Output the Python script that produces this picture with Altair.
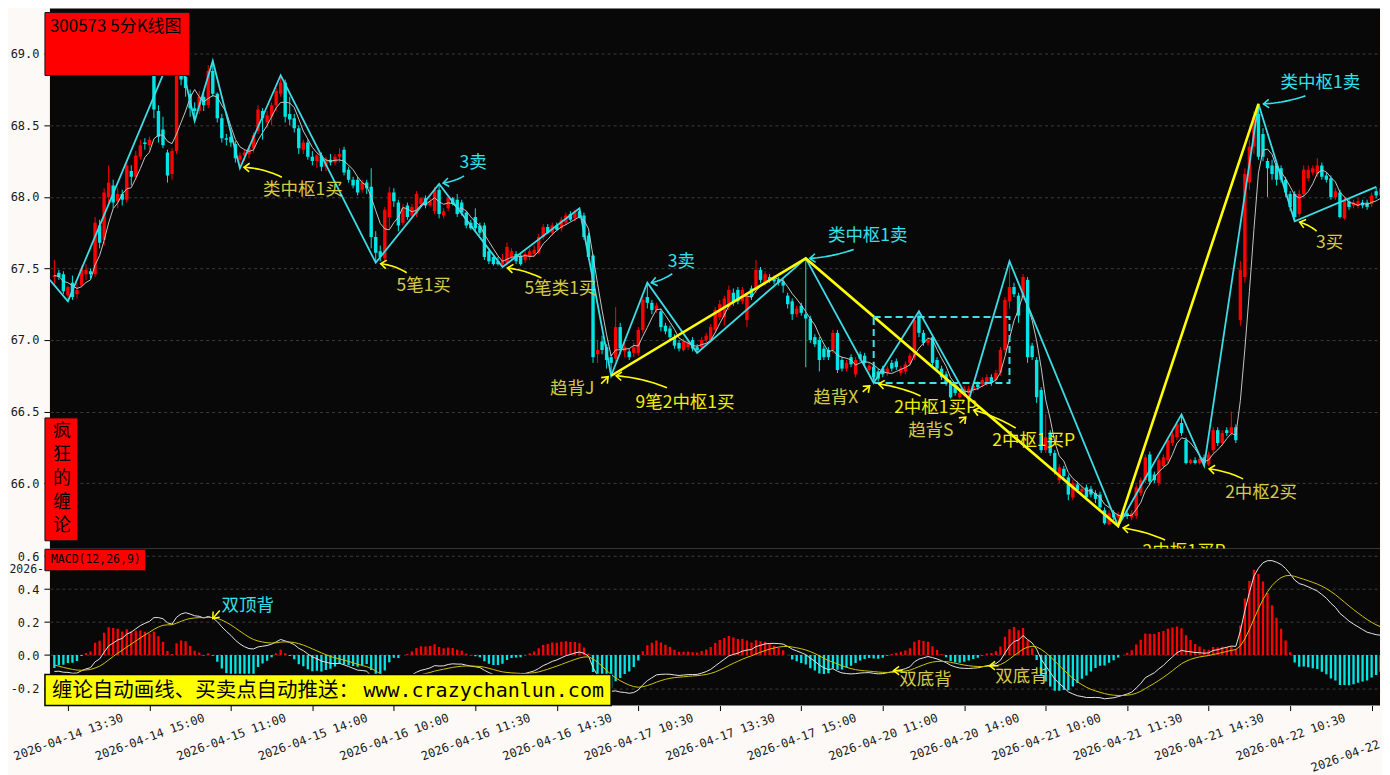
import json
import math
import numpy as np
import pandas as pd
import altair as alt

# ---------------- candle data (5-minute bars, 2026-04-14 13:15 ...) ----------------
OPEN = [
67.44,67.47,67.46,67.31,67.40,67.32,67.38,67.46,67.48,67.46,
67.80,67.70,68.00,68.08,67.97,68.02,67.98,68.18,68.14,68.28,
68.38,68.36,68.90,68.60,68.47,68.31,68.16,68.32,68.95,68.84,
68.72,68.62,68.60,68.70,68.64,68.88,68.72,68.55,68.41,68.42,
68.37,68.26,68.29,68.30,68.34,68.46,68.60,68.52,68.56,68.64,
68.72,68.80,68.58,68.55,68.48,68.33,68.38,68.28,68.25,68.29,
68.21,68.26,68.24,68.28,68.33,68.19,68.12,68.12,68.05,68.10,
68.07,67.72,67.62,67.57,67.86,68.03,67.96,67.82,67.94,67.87,
67.88,67.95,67.99,67.94,67.90,68.05,67.87,67.92,67.99,67.98,
67.96,67.89,67.82,67.86,67.80,67.80,67.62,67.58,67.55,67.53,
67.54,67.58,67.60,67.59,67.56,67.58,67.60,67.61,67.72,67.79,
67.75,67.80,67.78,67.82,67.88,67.85,67.90,67.87,67.73,67.59,
66.90,66.99,66.95,66.88,66.87,67.09,66.92,66.92,66.91,66.91,
67.07,67.30,67.26,67.21,67.20,67.10,67.08,67.02,66.98,66.93,
66.95,67.00,66.95,66.95,67.00,67.00,67.07,67.16,67.16,67.23,
67.33,67.35,67.27,67.14,67.36,67.35,67.49,67.40,67.44,67.43,
67.42,67.41,67.31,67.27,67.18,67.24,67.18,67.15,67.02,67.00,
66.94,66.93,66.93,67.05,66.86,66.80,66.88,66.76,66.90,66.89,
66.79,66.81,66.78,66.80,66.77,66.84,66.85,66.77,66.78,66.84,
66.88,67.17,67.05,66.98,67.02,66.86,66.80,66.76,66.70,66.67,
66.60,66.62,66.63,66.65,66.69,66.69,66.70,66.74,66.72,66.77,
66.93,67.27,67.37,67.31,67.30,67.42,66.96,66.86,66.65,66.23,
66.35,66.21,66.02,66.10,66.04,65.90,65.99,65.94,65.97,65.96,
65.93,65.92,65.81,65.71,65.79,65.76,65.79,65.79,65.76,65.77,
65.93,66.02,66.20,66.06,66.00,66.12,66.16,66.28,66.32,66.42,
66.30,66.14,66.16,66.14,66.18,66.13,66.23,66.37,66.28,66.37,
66.35,66.39,67.14,67.44,68.10,68.35,68.58,68.44,68.25,68.22,
68.22,68.20,68.12,68.02,68.02,67.88,68.02,68.13,68.17,68.16,
68.22,68.15,68.13,68.00,68.03,67.85,67.97,67.94,67.94,67.96,
67.96,67.95,68.04,68.01,68.07]
HIGH = [
67.56,67.49,67.48,67.38,67.45,67.40,67.52,67.53,67.50,67.86,
67.84,68.06,68.22,68.12,68.06,68.05,68.26,68.22,68.32,68.40,
68.41,68.42,68.98,68.64,68.56,68.33,68.34,69.08,69.02,68.88,
68.75,68.66,68.74,68.73,68.92,68.95,68.73,68.58,68.44,68.47,
68.39,68.31,68.33,68.36,68.45,68.64,68.62,68.60,68.66,68.76,
68.85,68.82,68.70,68.58,68.50,68.40,68.40,68.32,68.30,68.31,
68.28,68.30,68.30,68.34,68.35,68.21,68.14,68.14,68.12,68.12,
68.20,67.76,67.66,67.93,68.07,68.06,67.98,67.95,67.96,67.95,
68.04,68.00,68.01,67.99,68.07,68.09,67.92,68.01,68.00,68.02,
67.98,67.90,67.84,67.92,67.82,67.82,67.64,67.60,67.58,67.60,
67.68,67.64,67.62,67.61,67.62,67.64,67.66,67.74,67.81,67.81,
67.82,67.82,67.86,67.89,67.90,67.91,67.92,67.89,67.75,67.60,
67.00,67.03,66.97,66.90,67.23,67.12,66.98,66.94,66.98,67.09,
67.30,67.40,67.28,67.26,67.22,67.12,67.10,67.04,67.00,67.01,
67.00,67.02,66.97,67.02,67.05,67.11,67.23,67.28,67.31,67.38,
67.36,67.37,67.37,67.33,67.38,67.56,67.51,67.48,67.46,67.45,
67.44,67.43,67.33,67.29,67.24,67.26,67.57,67.17,67.04,67.02,
66.96,66.95,67.07,67.07,66.88,66.86,66.90,66.88,66.92,66.91,
66.84,66.83,66.80,66.82,66.82,66.86,66.87,66.82,66.85,66.91,
67.16,67.20,67.07,67.02,67.04,66.88,66.82,66.78,66.72,66.69,
66.65,66.68,66.68,66.70,66.71,66.74,66.76,66.76,66.79,66.95,
67.30,67.55,67.40,67.33,67.46,67.44,66.98,66.88,66.67,66.48,
66.37,66.23,66.13,66.12,66.06,66.02,66.01,65.98,65.99,65.98,
65.95,65.94,65.83,65.81,65.81,65.80,65.81,65.81,65.81,65.99,
66.04,66.20,66.22,66.08,66.18,66.20,66.32,66.36,66.43,66.48,
66.32,66.17,66.18,66.18,66.20,66.22,66.39,66.39,66.37,66.39,
66.50,66.41,67.55,68.20,68.40,68.60,68.65,68.48,68.27,68.26,
68.24,68.22,68.14,68.04,68.04,68.05,68.22,68.22,68.22,68.27,
68.24,68.17,68.15,68.06,68.05,68.00,67.99,67.98,67.99,67.98,
67.98,68.03,68.07,68.08,68.09]
LOW = [
67.37,67.42,67.32,67.27,67.28,67.29,67.37,67.42,67.43,67.44,
67.64,67.66,67.96,67.92,67.92,67.94,67.96,68.08,68.12,68.26,
68.33,68.33,68.55,68.38,68.34,68.10,68.12,68.30,68.78,68.70,
68.56,68.53,68.58,68.60,68.62,68.70,68.52,68.38,68.36,68.35,
68.24,68.20,68.25,68.27,68.31,68.44,68.40,68.48,68.50,68.60,
68.70,68.52,68.50,68.45,68.30,68.30,68.26,68.22,68.20,68.18,
68.18,68.22,68.22,68.24,68.15,68.10,68.06,68.01,68.03,68.02,
67.64,67.54,67.55,67.55,67.78,67.93,67.76,67.80,67.84,67.85,
67.86,67.93,67.92,67.93,67.88,67.85,67.85,67.90,67.94,67.86,
67.87,67.78,67.77,67.76,67.73,67.56,67.53,67.52,67.52,67.51,
67.52,67.56,67.53,67.52,67.54,67.56,67.58,67.60,67.70,67.74,
67.73,67.76,67.76,67.80,67.83,67.83,67.85,67.70,67.56,66.84,
66.84,66.90,66.80,66.75,66.85,66.90,66.88,66.86,66.88,66.89,
67.05,67.22,67.18,67.19,67.06,67.04,67.00,66.94,66.92,66.92,
66.93,66.92,66.91,66.93,66.98,66.98,67.05,67.14,67.10,67.21,
67.24,67.25,67.25,67.09,67.28,67.33,67.40,67.38,67.40,67.39,
67.38,67.33,67.22,67.14,67.16,67.17,66.81,66.98,66.95,66.78,
66.86,66.86,66.91,66.77,66.78,66.78,66.81,66.74,66.85,66.82,
66.77,66.70,66.71,66.74,66.75,66.78,66.79,66.75,66.76,66.82,
66.86,67.02,66.96,66.96,66.82,66.78,66.72,66.68,66.59,66.61,
66.59,66.60,66.58,66.63,66.65,66.67,66.68,66.68,66.70,66.75,
66.91,67.22,67.30,67.12,67.28,66.84,66.86,66.56,66.21,66.21,
66.19,66.06,66.00,66.02,65.88,65.88,65.93,65.92,65.88,65.90,
65.86,65.81,65.71,65.71,65.74,65.70,65.75,65.75,65.74,65.75,
65.91,66.00,65.99,66.00,65.98,66.10,66.14,66.26,66.30,66.33,
66.13,66.13,66.13,66.13,66.12,66.12,66.21,66.26,66.26,66.33,
66.33,66.28,67.10,67.40,68.05,68.30,68.26,68.25,68.00,68.12,
68.08,68.10,68.00,67.90,67.83,67.86,68.00,68.11,68.15,68.14,
68.12,68.10,67.98,67.98,67.85,67.84,67.91,67.92,67.92,67.92,
67.91,67.93,67.99,67.99,68.03]
CLOSE = [
67.45,67.44,67.34,67.37,67.30,67.35,67.50,67.49,67.46,67.82,
67.68,68.03,68.10,67.96,68.02,67.98,68.22,68.14,68.29,68.36,
68.37,68.40,68.61,68.42,68.36,68.15,68.32,68.95,68.82,68.76,
68.62,68.60,68.70,68.64,68.88,68.72,68.55,68.41,68.40,68.38,
68.27,68.29,68.31,68.34,68.43,68.61,68.55,68.57,68.64,68.74,
68.80,68.56,68.54,68.48,68.34,68.38,68.28,68.25,68.29,68.21,
68.26,68.24,68.28,68.30,68.17,68.12,68.08,68.03,68.10,68.06,
67.72,67.61,67.58,67.91,68.03,67.97,67.80,67.92,67.86,67.93,
68.02,67.99,67.94,67.97,68.05,67.88,67.90,67.99,67.95,67.88,
67.89,67.80,67.78,67.78,67.75,67.58,67.55,67.53,67.53,67.56,
67.65,67.62,67.55,67.53,67.60,67.62,67.63,67.72,67.79,67.75,
67.80,67.77,67.84,67.87,67.84,67.89,67.86,67.72,67.58,66.88,
66.93,66.93,66.86,66.84,67.09,66.94,66.95,66.88,66.95,67.07,
67.28,67.26,67.21,67.24,67.09,67.06,67.02,66.96,66.94,66.99,
66.98,66.94,66.93,67.00,67.03,67.09,67.21,67.25,67.29,67.35,
67.26,67.27,67.35,67.31,67.30,67.49,67.42,67.46,67.42,67.41,
67.40,67.38,67.25,67.18,67.22,67.19,67.15,67.00,66.97,66.86,
66.88,66.88,67.05,66.79,66.80,66.84,66.83,66.86,66.87,66.84,
66.82,66.74,66.73,66.76,66.80,66.80,66.81,66.80,66.83,66.89,
67.14,67.05,66.98,67.00,66.84,66.80,66.74,66.70,66.60,66.63,
66.63,66.66,66.66,66.68,66.67,66.72,66.74,66.70,66.77,66.93,
67.28,67.37,67.32,67.17,67.44,66.88,66.88,66.60,66.23,66.32,
66.21,66.08,66.11,66.05,65.92,66.00,65.95,65.96,65.90,65.92,
65.89,65.83,65.72,65.79,65.76,65.78,65.77,65.77,65.79,65.97,
66.02,66.18,66.01,66.02,66.16,66.18,66.30,66.34,66.41,66.35,
66.14,66.16,66.14,66.17,66.14,66.20,66.37,66.28,66.35,66.35,
66.39,66.30,67.49,68.16,68.35,68.56,68.28,68.28,68.20,68.16,
68.12,68.12,68.03,67.93,67.86,68.02,68.19,68.19,68.20,68.22,
68.14,68.12,68.00,68.04,67.86,67.98,67.93,67.96,67.97,67.94,
67.93,68.01,68.01,68.06,68.05]

# ---------------- 笔 / 线段 / 中枢 ----------------
BI_IDX = [-1, 3, 27, 31, 35, 41, 50, 71, 85, 99, 116, 123, 131, 142, 166,
          181, 191, 202, 211, 235, 249, 254, 266, 274, 292]
BI_PRICE = [67.42, 67.27, 69.08, 68.53, 68.95, 68.20, 68.85, 67.54, 68.09, 67.51,
            67.92, 66.75, 67.40, 66.91, 67.57, 66.70, 67.20, 66.58, 67.55, 65.70,
            66.48, 66.12, 68.65, 67.83, 68.07]
SEG_IDX = [123, 166, 235, 266]
SEG_PRICE = [66.75, 67.57, 65.70, 68.65]
ZS_START, ZS_END, ZS_LOW, ZS_HIGH = 181, 211, 66.70, 67.16

# ---------------- axes ----------------
TICK_IDX = [3, 21, 39, 57, 75, 93, 111, 129, 147, 165, 183, 201, 219, 237, 255, 273, 291]
TICK_LABELS = ["2026-04-14 13:30", "2026-04-14 15:00", "2026-04-15 11:00",
               "2026-04-15 14:00", "2026-04-16 10:00", "2026-04-16 11:30",
               "2026-04-16 14:30", "2026-04-17 10:30", "2026-04-17 13:30",
               "2026-04-17 15:00", "2026-04-20 11:00", "2026-04-20 14:00",
               "2026-04-21 10:00", "2026-04-21 11:30", "2026-04-21 14:30",
               "2026-04-22 10:30", "2026-04-22 13:30"]
PRICE_TICKS = [66.0, 66.5, 67.0, 67.5, 68.0, 68.5, 69.0]
MACD_TICKS = [-0.2, 0.0, 0.2, 0.4, 0.6]
MACD_SEED = (67.53, 67.63, -0.05)   # EMA12, EMA26, DEA before the first bar

# ---------------- annotations ----------------
PRICE_ANN = [
    ("类中枢1买", 5, "buy", (63, 22), (42, 9), (4, -1), 4),
    ("3卖", 8, "sell", (34, -21), (25, -8), (4, -1), -2),
    ("5笔1买", 7, "buy", (48, 23), (31, 10), (5, 1), 3),
    ("5笔类1买", 9, "buy", (58, 22), (39, 11), (5, 1), 3),
    ("3卖", 12, "sell", (34, -21), (25, -9), (4, 0), -2),
    ("9笔2中枢1买", 11, "buyb", (74, 27), (56, 12), (5, 0), 4),
    ("趋背J", 11, "buy", (-39, 13), (-10, 8), (-3, 1), 0),
    ("类中枢1卖", 14, "sell", (62, -22), (48, -9), (4, 0), -3),
    ("趋背X", 15, "buy", (-38, 15), (-11, 9), (-4, 3), 0),
    ("2中枢1买P", 15, "buyb", (62, 25), (47, 13), (5, 1), 3),
    ("趋背S", 17, "buy", (-38, 31), (-9, 23), (-3, 17), 0),
    ("2中枢1买P", 17, "buyb", (65, 41), (47, 28), (5, 10), 3),
    ("类中枢1卖", 22, "sell", (62, -21), (47, -8), (5, 0), -3),
    ("3买", 23, "buy", (35, 22), (22, 10), (5, 1), 2),
    ("2中枢2买", 21, "buy", (57, 27), (39, 13), (5, 3), 3),
    ("2中枢1买P", 19, "buyb", (66, 26), (47, 14), (5, 2), 3),
]
MACD_ANN = [
    ("双顶背", 35.0, 0.222, "sellt", (35, -13), (7, -8), (0, 0), 0),
    ("双底背", 185.4, -0.094, "buy", (32, 9), (9, 0), (0, 0), 0),
    ("双底背", 206.6, -0.064, "buy", (32, 11), (9, 0), (0, 0), 0),
]
SIDE_TITLE = ["疯", "狂", "的", "缠", "论"]

# ---------------- styling / geometry ----------------
BG = "#fcf9f7"
PLOT_BG = "#080808"
RED = "#ff0000"
CYAN = "#00e6e6"
BI_CYAN = "#3ddbe4"
YEL = "#ffff00"
KHAKI = "#d4ca48"
TXT_YEL = "#f2ee00"
TXT_CYAN = "#34e0ea"
GRID = "#3c3c3c"
CN_FONT = "Noto Sans CJK SC"
MONO = "DejaVu Sans Mono"

X_MIN, X_MAX = -0.97, 292.85
P_MIN, P_MAX = 65.541, 69.316
M_MIN, M_MAX = -0.306, 0.645
W, H_PRICE, H_MACD = 1332, 541, 157
PXB = W / (X_MAX - X_MIN)
PXP = H_PRICE / (P_MAX - P_MIN)
PXM = H_MACD / (M_MAX - M_MIN)

xs = alt.Scale(domain=[X_MIN, X_MAX], nice=False, zero=False)
ys = alt.Scale(domain=[P_MIN, P_MAX], nice=False, zero=False)
ms = alt.Scale(domain=[M_MIN, M_MAX], nice=False, zero=False)

price_axis = alt.Axis(values=PRICE_TICKS, format=".1f", grid=True, gridColor=GRID,
                      gridDash=[3, 3], gridWidth=1, tickColor="#000", tickSize=6,
                      domain=False, labelFont=MONO, labelFontSize=12, labelColor="#1a1a1a",
                      labelPadding=5, title=None, minExtent=42, maxExtent=42)
label_expr = (f"datum.value == {TICK_IDX[-1]} ? '' : "
              f"{json.dumps(TICK_LABELS, ensure_ascii=False)}[indexof({json.dumps(TICK_IDX)}, datum.value)]")
x_axis = alt.Axis(values=TICK_IDX, labelExpr=label_expr, labelAngle=340, labelAlign="center",
                  labelBaseline="middle", labelPadding=26, tickSize=5, tickColor="#000",
                  domain=False, grid=False, labelFont=MONO, labelFontSize=12,
                  labelColor="#1a1a1a", labelOverlap=False, labelBound=False,
                  labelFlush=False, title=None)
m_axis = alt.Axis(values=MACD_TICKS,
                  labelExpr="datum.value < 0 ? '-' + format(-datum.value, '.1f') : format(datum.value, '.1f')",
                  grid=True, gridColor=GRID, gridDash=[3, 3], gridWidth=1, tickColor="#000",
                  tickSize=6, domain=False, labelFont=MONO, labelFontSize=12,
                  labelColor="#1a1a1a", labelPadding=5, title=None, minExtent=42, maxExtent=42)


def XP(f):
    return alt.X(f, type="quantitative", scale=xs, axis=None)


def YP(f):
    return alt.Y(f, type="quantitative", scale=ys, axis=price_axis)


def XM(f):
    return alt.X(f, type="quantitative", scale=xs, axis=x_axis)


def YM(f):
    return alt.Y(f, type="quantitative", scale=ms, axis=m_axis)


N = len(CLOSE)
df = pd.DataFrame({"i": np.arange(N), "o": OPEN, "h": HIGH, "l": LOW, "c": CLOSE})
df["col"] = np.where(df["c"] >= df["o"], RED, CYAN)
df["bt"] = np.maximum(df["o"], df["c"])
df["bb"] = np.minimum(df["o"], df["c"])
thin = (df["bt"] - df["bb"]) < 0.008
df.loc[thin, "bt"] = df.loc[thin, "bb"] + 0.008
df["ma"] = df["c"].rolling(5, min_periods=1).mean()

e12, e26, dea = MACD_SEED
difs, deas = [], []
for c in CLOSE:
    e12 += (c - e12) * 2 / 13
    e26 += (c - e26) * 2 / 27
    dif = e12 - e26
    dea += (dif - dea) * 2 / 10
    difs.append(dif)
    deas.append(dea)
df["dif"] = difs
df["dea"] = deas
df["mh"] = 2 * (df["dif"] - df["dea"])
df["zero"] = 0.0
df["hcol"] = np.where(df["mh"] >= 0, RED, CYAN)

bi_df = pd.DataFrame({"i": BI_IDX, "p": BI_PRICE})
seg_df = pd.DataFrame({"i": SEG_IDX, "p": SEG_PRICE})
zs_df = pd.DataFrame({"a": [ZS_START], "b": [ZS_END], "lo": [ZS_LOW], "hi": [ZS_HIGH]})


def arrow(tail, tip, bulge, head=7.0, spread=38):
    (x0, y0), (x2, y2) = tail, tip
    dx, dy = x2 - x0, y2 - y0
    L = math.hypot(dx, dy) or 1.0
    nx, ny = -dy / L, dx / L
    cx, cy = (x0 + x2) / 2 + nx * bulge, (y0 + y2) / 2 + ny * bulge
    shaft = []
    for k in range(13):
        t = k / 12
        shaft.append(((1 - t) ** 2 * x0 + 2 * (1 - t) * t * cx + t * t * x2,
                      (1 - t) ** 2 * y0 + 2 * (1 - t) * t * cy + t * t * y2))
    ux, uy = x2 - cx, y2 - cy
    ul = math.hypot(ux, uy) or 1.0
    bx, by = -ux / ul, -uy / ul
    hp = []
    for s in (1, -1):
        a = math.radians(spread * s)
        hp.append((x2 + (bx * math.cos(a) - by * math.sin(a)) * head,
                   y2 + (bx * math.sin(a) + by * math.cos(a)) * head))
    return shaft, [hp[0], (x2, y2), hp[1]]


TEXT_COL = {"buy": KHAKI, "buyb": TXT_YEL, "sell": TXT_CYAN, "sellt": TXT_CYAN}
ARROW_COL = {"buy": YEL, "buyb": YEL, "sell": TXT_CYAN, "sellt": YEL}


def build_ann(items, pxy):
    txt, lines = [], []
    for g, (text, ax, ay, kind, toff, tail, tip, bulge) in enumerate(items):
        tx, ty = toff
        txt.append({"x": ax + tx / PXB, "y": ay - ty / pxy, "t": text, "col": TEXT_COL[kind]})
        shaft, headp = arrow(tail, tip, bulge)
        for part, pts in (("s", shaft), ("h", headp)):
            for k, (px, py) in enumerate(pts):
                lines.append({"x": ax + px / PXB, "y": ay - py / pxy, "g": f"{g}{part}",
                              "k": k, "col": ARROW_COL[kind]})
    return pd.DataFrame(txt), pd.DataFrame(lines)


p_items = [(t, BI_IDX[v], BI_PRICE[v], kind, to, ta, ti, b) for (t, v, kind, to, ta, ti, b) in PRICE_ANN]
p_txt, p_lines = build_ann(p_items, PXP)
m_txt, m_lines = build_ann(MACD_ANN, PXM)

one = pd.DataFrame({"k": [0]})
side_df = pd.DataFrame({"t": SIDE_TITLE, "py": [424 + 23.6 * k for k in range(len(SIDE_TITLE))]})
last_df = pd.DataFrame({"i": [TICK_IDX[-1]], "t": [TICK_LABELS[-1].split(" ")[0]]})

# ---------------- price panel ----------------
wick = alt.Chart(df).mark_rule(strokeWidth=1, clip=True).encode(
    x=XP("i"), y=YP("l"), y2="h", color=alt.Color("col:N", scale=None))
body = alt.Chart(df).mark_rule(strokeWidth=3.4, strokeCap="butt", clip=True).encode(
    x=XP("i"), y=YP("bb"), y2="bt", color=alt.Color("col:N", scale=None))
ma = alt.Chart(df).mark_line(color="#c4c4c4", strokeWidth=1, clip=True).encode(
    x=XP("i"), y=YP("ma"))
bi = alt.Chart(bi_df).mark_line(color=BI_CYAN, strokeWidth=1.8, clip=True).encode(
    x=XP("i"), y=YP("p"))
seg = alt.Chart(seg_df).mark_line(color=YEL, strokeWidth=2.6, clip=True).encode(
    x=XP("i"), y=YP("p"))
zs = alt.Chart(zs_df).mark_rect(filled=False, stroke="#3ee0ea", strokeWidth=2,
                                strokeDash=[7, 4], clip=True).encode(
    x=XP("a"), x2="b", y=YP("lo"), y2="hi")
p_arr = alt.Chart(p_lines).mark_line(strokeWidth=1.6, clip=True).encode(
    x=XP("x"), y=YP("y"), detail="g:N", order="k:Q", color=alt.Color("col:N", scale=None))
p_text = alt.Chart(p_txt).mark_text(font=CN_FONT, fontSize=17.5, align="center",
                                    baseline="middle", clip=True).encode(
    x=XP("x"), y=YP("y"), text="t:N", color=alt.Color("col:N", scale=None))

title_box = alt.Chart(one).mark_rect(fill="#ff0000", stroke="#111", strokeWidth=1).encode(
    x=alt.value(-5), x2=alt.value(140), y=alt.value(4), y2=alt.value(67))
title_txt = alt.Chart(one).mark_text(text="300573 5分K线图", font=CN_FONT, fontSize=17,
                                     align="left", baseline="middle", color="#000").encode(
    x=alt.value(0), y=alt.value(18))
side_box = alt.Chart(one).mark_rect(fill="#ff0000", stroke="#111", strokeWidth=1).encode(
    x=alt.value(-5), x2=alt.value(28), y=alt.value(410), y2=alt.value(533))
side_txt = alt.Chart(side_df).mark_text(font=CN_FONT, fontSize=18, align="center",
                                        baseline="middle", color="#000").encode(
    x=alt.value(12), y=alt.Y("py:Q", scale=None), text="t:N")

price = alt.layer(wick, body, ma, bi, seg, zs, p_arr, p_text,
                  title_box, title_txt, side_box, side_txt).properties(width=W, height=H_PRICE)

# ---------------- MACD panel ----------------
hist = alt.Chart(df).mark_rule(strokeWidth=2.3, strokeCap="butt", clip=True).encode(
    x=XM("i"), y=YM("zero"), y2="mh", color=alt.Color("hcol:N", scale=None))
dif_l = alt.Chart(df).mark_line(color="#e4e4e4", strokeWidth=1, clip=True).encode(
    x=XM("i"), y=YM("dif"))
dea_l = alt.Chart(df).mark_line(color="#d0c400", strokeWidth=1, clip=True).encode(
    x=XM("i"), y=YM("dea"))
m_arr = alt.Chart(m_lines).mark_line(strokeWidth=1.5, clip=True).encode(
    x=XM("x"), y=YM("y"), detail="g:N", order="k:Q", color=alt.Color("col:N", scale=None))
m_text = alt.Chart(m_txt).mark_text(font=CN_FONT, fontSize=17.5, align="center",
                                    baseline="middle", clip=True).encode(
    x=XM("x"), y=YM("y"), text="t:N", color=alt.Color("col:N", scale=None))
macd_box = alt.Chart(one).mark_rect(fill="#ff0000", stroke="#111", strokeWidth=1).encode(
    x=alt.value(-5), x2=alt.value(96), y=alt.value(0.5), y2=alt.value(22))
macd_txt = alt.Chart(one).mark_text(text="MACD(12,26,9)", font=MONO, fontSize=11.5,
                                    align="left", baseline="middle", color="#000").encode(
    x=alt.value(1), y=alt.value(11))
ghost = alt.Chart(one).mark_text(text="2026-", font=MONO, fontSize=11.5, align="right",
                                 baseline="middle", color="#1a1a1a").encode(
    x=alt.value(-6), y=alt.value(21))
banner = alt.Chart(one).mark_rect(fill="#ffff00", stroke="#000", strokeWidth=1.5).encode(
    x=alt.value(-5), x2=alt.value(562), y=alt.value(126), y2=alt.value(157))
banner_cn = alt.Chart(one).mark_text(text="缠论自动画线、买卖点自动推送：", font=CN_FONT,
                                     fontSize=20.5, align="left", baseline="middle",
                                     color="#000").encode(x=alt.value(2), y=alt.value(142))
banner_en = alt.Chart(one).mark_text(text="www.crazychanlun.com", font=MONO, fontSize=20,
                                     align="left", baseline="middle", color="#000").encode(
    x=alt.value(314), y=alt.value(142))
last_lab = alt.Chart(last_df).mark_text(font=MONO, fontSize=12, angle=340, align="center",
                                        baseline="middle", color="#1a1a1a", dx=-28).encode(
    x=XM("i"), y=alt.value(H_MACD + 41), text="t:N")

macd = alt.layer(hist, dif_l, dea_l, m_arr, m_text, macd_box, macd_txt, ghost,
                 banner, banner_cn, banner_en, last_lab).properties(width=W, height=H_MACD)

chart = alt.vconcat(price, macd, spacing=0).properties(
    background=BG, padding=0
).configure_view(fill=PLOT_BG, stroke=None)

chart.save("out.html", embed_options={"renderer": "svg", "actions": False})
